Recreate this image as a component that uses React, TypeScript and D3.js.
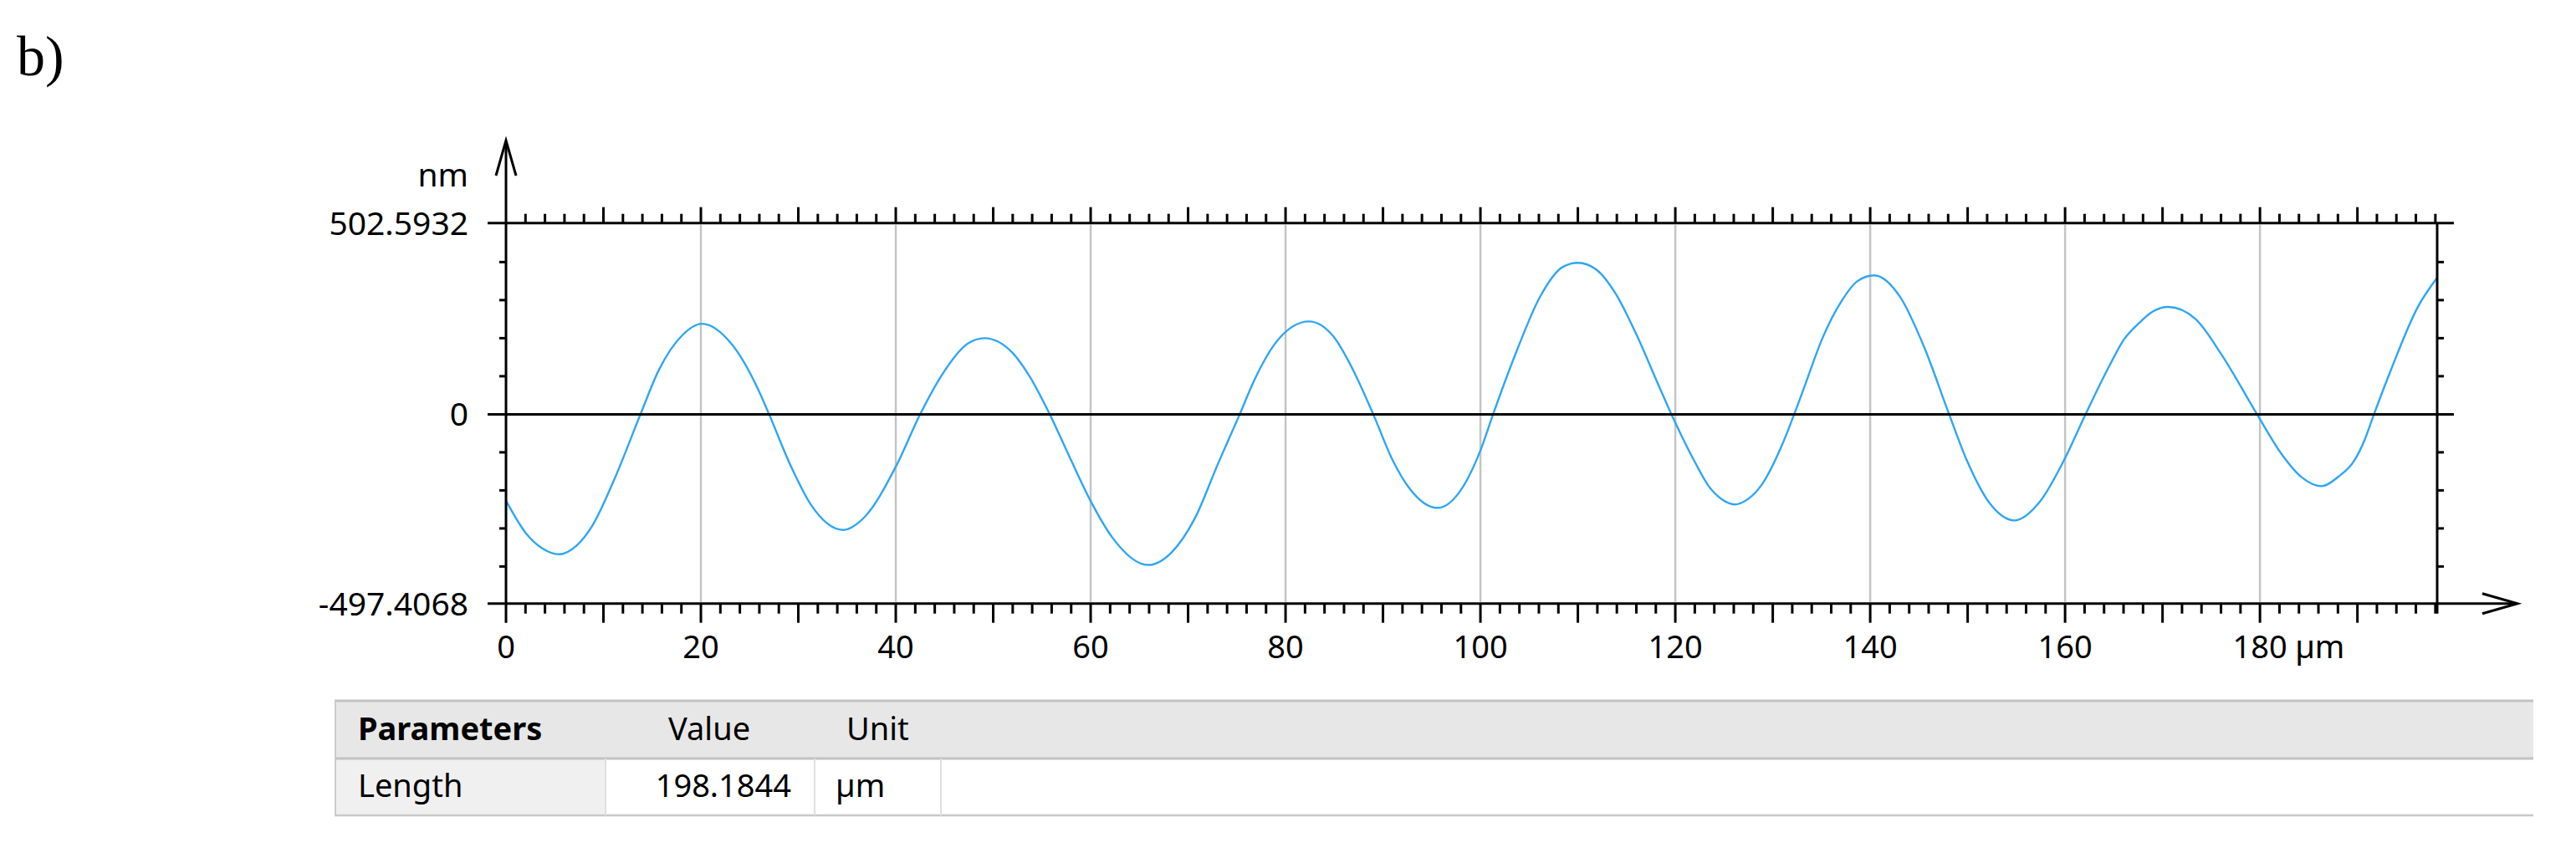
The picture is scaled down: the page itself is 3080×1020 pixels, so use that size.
import React from "react";
import * as d3 from "d3";

// Profile data (x in µm, z in nm)
const xValues = [
  0, 2.0, 3.7, 5.45, 7.2, 8.9, 11.2, 13.8, 15.7, 18.1, 20.1, 23.2, 25.9, 27.0,
  29.3, 31.3, 34.6, 36.8, 40.0, 42.5, 44.6, 47.4, 49.1, 52.0, 53.7, 55.8, 57.8,
  60.0, 62.2, 65.9, 68.3, 70.7, 73.1, 75.3, 76.8, 79.2, 82.4, 84.9, 86.9, 89.0,
  91.0, 92.7, 95.6, 97.8, 100.0, 101.3, 103.7, 106.1, 108.5, 110.0, 111.9,
  113.9, 116.0, 118.3, 119.6, 122.1, 123.4, 124.8, 126.1, 127.5, 128.9, 130.9,
  132.2, 133.3, 135.1, 137.0, 138.7, 140.4, 143.1, 145.5, 148.1, 149.9, 152.3,
  154.8, 157.4, 160.0, 162.1, 164.5, 166.0, 167.6, 169.0, 170.6, 173.4, 176.1,
  179.7, 182.2, 184.3, 186.3, 188.0, 189.7, 190.7, 191.7, 193.4, 196.2, 198.1844,
];
const zValues = [
  -227, -311, -352, -368, -346, -291, -166, 0, 117, 208, 238, 183, 64, 0,
  -140, -238, -304, -270, -138, 0, 98, 186, 200, 161, 101, 0, -110,
  -228, -323, -396, -363, -273, -128, 0, 90, 195, 244, 205, 118, 0,
  -121, -194, -246, -206, -95, 0, 165, 308, 388, 398, 380,
  316, 210, 75, 0, -130, -188, -224, -237, -222, -184, -84,
  0, 76, 200, 295, 350, 365, 307, 179, 0, -120, -235,
  -279, -230, -115, 0, 125, 195, 240, 270, 282, 250, 155,
  0, -104, -166, -189, -165, -121, -70, 0, 114, 282, 359,
];

const xTickLabels = [0, 20, 40, 60, 80, 100, 120, 140, 160, 180];
const yTickLabels = ["502.5932", "0", "-497.4068"];
const yTickValues = [502.5932, 0, -497.4068];
const tableHeaders = ["Parameters", "Value", "Unit"];
const tableRow = ["Length", "198.1844", "µm"];

const X_MAX = 198.1844;
const Z_MIN = -497.4068;
const Z_MAX = 502.5932;

const FONT = "'Noto Sans', 'DejaVu Sans', sans-serif";

export default function App() {
  const x = d3.scaleLinear().domain([0, X_MAX]).range([605, 2914]);
  const y = d3.scaleLinear().domain([Z_MIN, Z_MAX]).range([721.7, 266.7]);

  const pts = xValues.map((v, i) => [v, zValues[i]] as [number, number]);
  const line = d3
    .line<[number, number]>()
    .x((d) => x(d[0]))
    .y((d) => y(d[1]))
    .curve(d3.curveMonotoneX);

  const xMinor = d3.range(0, X_MAX + 0.001, 2);
  const yMinor = d3.range(-400, 401, 100).filter((v) => v !== 0);
  const gridX = d3.range(20, 181, 20);

  const x0 = x(0);
  const x1 = x(X_MAX);
  const yTop = y(Z_MAX);
  const yBot = y(Z_MIN);
  const yZero = y(0);
  const ax = "#000";
  const sw = 3;

  // table geometry
  const tL = 400, tR = 3029, tTop = 838, tMid = 907, tBot = 975;
  const colEdges = [400, 724, 974, 1125];

  return (
    <svg
      width={3080}
      height={1020}
      style={{ position: "absolute", left: 0, top: 0, background: "#fff" }}
    >
      <text x={20} y={90} fontFamily="'Liberation Serif', 'Times New Roman', serif" fontSize={68} fill="#000">
        b)
      </text>

      {/* grid */}
      {gridX.map((g) => (
        <line key={"g" + g} x1={x(g)} x2={x(g)} y1={yTop + 2} y2={yBot - 2} stroke="#c4c4c4" strokeWidth={2.5} />
      ))}

      {/* profile */}
      <path d={line(pts) || ""} fill="none" stroke="#2ea6f4" strokeWidth={2.4} strokeLinejoin="round" />

      {/* zero line */}
      <line x1={583} x2={2934} y1={yZero} y2={yZero} stroke={ax} strokeWidth={sw} />
      {/* top border */}
      <line x1={583} x2={2934} y1={yTop} y2={yTop} stroke={ax} strokeWidth={sw} />
      {/* bottom axis */}
      <line x1={583} x2={3008} y1={yBot} y2={yBot} stroke={ax} strokeWidth={sw} />
      <polyline
        points={`${2968},${yBot - 12} ${3010},${yBot} ${2968},${yBot + 12}`}
        fill="none" stroke={ax} strokeWidth={sw} strokeLinejoin="miter"
      />
      {/* y axis */}
      <line x1={x0} x2={x0} y1={yBot + 23} y2={170} stroke={ax} strokeWidth={sw} />
      <polyline
        points={`${x0 - 12},${210} ${x0},${168} ${x0 + 12},${210}`}
        fill="none" stroke={ax} strokeWidth={sw} strokeLinejoin="miter"
      />
      {/* right frame */}
      <line x1={x1} x2={x1} y1={yTop} y2={yBot + 12} stroke={ax} strokeWidth={sw} />

      {/* top ticks */}
      {xMinor.filter((v) => v > 0).map((v) => {
        const major = Math.round(v) % 10 === 0;
        return (
          <line key={"tt" + v} x1={x(v)} x2={x(v)} y1={yTop} y2={yTop - (major ? 19 : 11)} stroke={ax} strokeWidth={sw} />
        );
      })}
      {/* bottom ticks */}
      {xMinor.filter((v) => v > 0).map((v) => {
        const major = Math.round(v) % 10 === 0;
        return (
          <line key={"bt" + v} x1={x(v)} x2={x(v)} y1={yBot} y2={yBot + (major ? 23 : 12)} stroke={ax} strokeWidth={sw} />
        );
      })}
      {/* left & right ticks */}
      {yMinor.map((v) => (
        <g key={"yt" + v}>
          <line x1={x0 - 8} x2={x0} y1={y(v)} y2={y(v)} stroke={ax} strokeWidth={sw} />
          <line x1={x1} x2={x1 + 8} y1={y(v)} y2={y(v)} stroke={ax} strokeWidth={sw} />
        </g>
      ))}

      {/* y labels */}
      <g fontFamily={FONT} fontSize={39} fill="#000" textAnchor="end">
        <text x={560} y={223}>nm</text>
        {yTickValues.map((v, i) => (
          <text key={"yl" + i} x={560} y={y(v) + 14}>{yTickLabels[i]}</text>
        ))}
      </g>

      {/* x labels */}
      <g fontFamily={FONT} fontSize={38} fill="#000">
        {xTickLabels.map((v) => (
          <text key={"xl" + v} x={x(v)} y={787} textAnchor="middle">{String(v)}</text>
        ))}
        <text x={x(180) + 42} y={787} textAnchor="start">µm</text>
      </g>

      {/* table */}
      <rect x={tL} y={tTop} width={tR - tL} height={tMid - tTop} fill="#e7e7e7" />
      <rect x={colEdges[0]} y={tMid} width={colEdges[1] - colEdges[0]} height={tBot - tMid} fill="#f0f0f0" />
      <line x1={tL} x2={tR} y1={tTop} y2={tTop} stroke="#c2c2c2" strokeWidth={3} />
      <line x1={tL} x2={tR} y1={tMid} y2={tMid} stroke="#c2c2c2" strokeWidth={3} />
      <line x1={tL} x2={tR} y1={tBot} y2={tBot} stroke="#c8c8c8" strokeWidth={2.5} />
      <line x1={tL + 1} x2={tL + 1} y1={tTop} y2={tBot} stroke="#cccccc" strokeWidth={2} />
      {colEdges.slice(1).map((e) => (
        <line key={"ce" + e} x1={e} x2={e} y1={tMid} y2={tBot} stroke="#e0e0e0" strokeWidth={2} />
      ))}
      <g fontFamily={FONT} fontSize={38} fill="#000">
        <text x={428} y={885} fontWeight="bold">{tableHeaders[0]}</text>
        <text x={799} y={885}>{tableHeaders[1]}</text>
        <text x={1012} y={885}>{tableHeaders[2]}</text>
        <text x={428} y={953}>{tableRow[0]}</text>
        <text x={946} y={953} textAnchor="end">{tableRow[1]}</text>
        <text x={999} y={953}>{tableRow[2]}</text>
      </g>
    </svg>
  );
}
